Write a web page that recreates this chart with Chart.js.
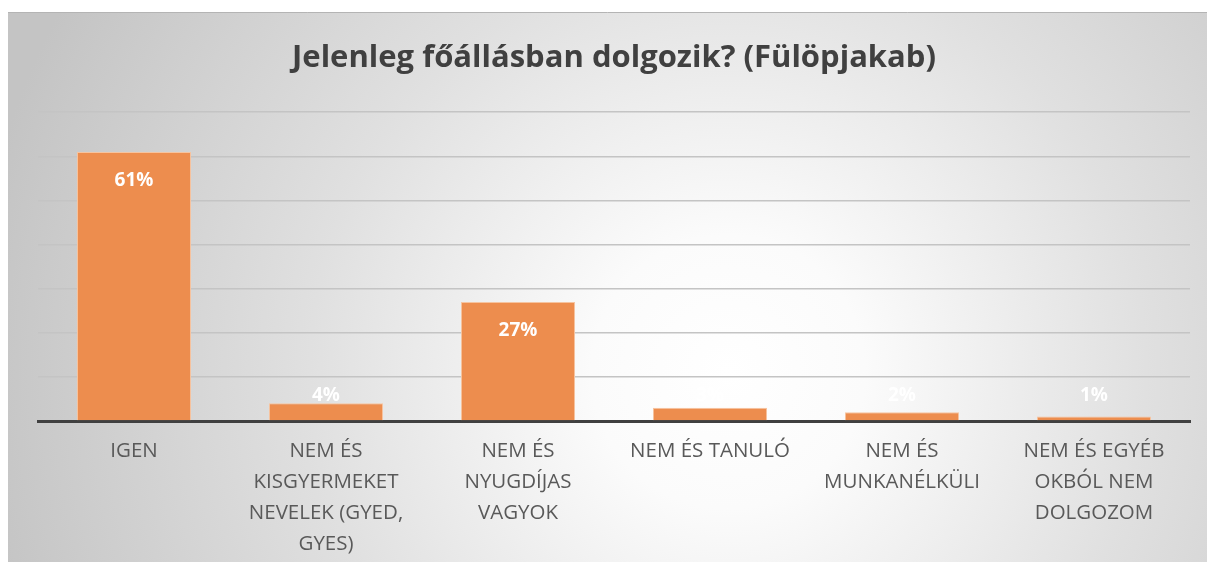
<!DOCTYPE html>
<html>
<head>
<meta charset="utf-8">
<script src="https://cdn.jsdelivr.net/npm/chart.js@4"></script>
<style>
  html, body { margin: 0; padding: 0; background: #ffffff; }
  #wrap { position: absolute; left: 8px; top: 12px; width: 1199px; height: 550px; }
</style>
</head>
<body>
<div id="wrap"><canvas id="jobChart" width="1199" height="550"></canvas></div>
<script>
const categories = [
  "IGEN",
  ["NEM ÉS", "KISGYERMEKET", "NEVELEK (GYED,", "GYES)"],
  ["NEM ÉS", "NYUGDÍJAS", "VAGYOK"],
  "NEM ÉS TANULÓ",
  ["NEM ÉS", "MUNKANÉLKÜLI"],
  ["NEM ÉS EGYÉB", "OKBÓL NEM", "DOLGOZOM"]
];
const percentValues = [61, 4, 27, 3, 2, 1];
const yTicks = [0, 10, 20, 30, 40, 50, 60, 70];

// soft radial shading behind the whole chart
const backdrop = {
  id: "backdrop",
  beforeDraw(chart) {
    const ctx = chart.ctx;
    const w = chart.width, h = chart.height;
    ctx.save();
    const g = ctx.createRadialGradient(720, 360, 0, 720, 360, 760);
    g.addColorStop(0, "#ffffff");
    g.addColorStop(0.18, "#fbfbfb");
    g.addColorStop(0.55, "#e0e0e0");
    g.addColorStop(1, "#c4c4c4");
    ctx.fillStyle = g;
    ctx.fillRect(0, 0, w, h);
    ctx.strokeStyle = "#b4b4b4";
    ctx.lineWidth = 1;
    ctx.beginPath();
    ctx.moveTo(0, 0.5);
    ctx.lineTo(w, 0.5);
    ctx.stroke();
    ctx.restore();
  }
};

// percentage labels at the inner end of every bar
const barLabels = {
  id: "barLabels",
  afterDatasetsDraw(chart) {
    const ctx = chart.ctx;
    const meta = chart.getDatasetMeta(0);
    const base = chart.scales.y.getPixelForValue(0);
    ctx.save();
    ctx.font = "bold 19px 'Open Sans'";
    ctx.fillStyle = "#ffffff";
    ctx.textAlign = "center";
    ctx.textBaseline = "middle";
    meta.data.forEach((bar, i) => {
      const y = Math.min(bar.y + 29, base - 25);
      ctx.fillText(percentValues[i] + "%", bar.x, y);
    });
    ctx.restore();
  }
};

new Chart(document.getElementById("jobChart"), {
  type: "bar",
  data: {
    labels: categories,
    datasets: [{
      data: percentValues,
      backgroundColor: "#ed8d4e",
      borderColor: "#f6c4a0",
      borderWidth: 1,
      borderSkipped: "bottom",
      barPercentage: 0.594,
      categoryPercentage: 1
    }]
  },
  options: {
    responsive: false,
    animation: false,
    layout: { padding: { left: 30, right: 17, top: 0, bottom: 0 } },
    plugins: {
      legend: { display: false },
      tooltip: { enabled: false },
      title: {
        display: true,
        text: "Jelenleg főállásban dolgozik? (Fülöpjakab)",
        color: "#404040",
        font: { family: "'Open Sans'", size: 31, weight: "bold", lineHeight: 1.2 },
        padding: { top: 28, bottom: 35 }
      }
    },
    scales: {
      x: {
        grid: { display: false, drawTicks: false },
        border: { display: true, color: "#404040", width: 3 },
        ticks: {
          color: "#595959",
          font: { family: "'Open Sans'", size: 20.5, lineHeight: 1.51 },
          padding: 15,
          maxRotation: 0,
          autoSkip: false
        },
        afterFit(scale) { scale.height = 141; }
      },
      y: {
        min: 0,
        max: 70,
        afterBuildTicks(scale) { scale.ticks = yTicks.map(v => ({ value: v })); },
        ticks: { display: false },
        grid: { color: "#c4c4c4", lineWidth: 1.5, drawTicks: false },
        border: { display: false },
        afterFit(scale) { scale.width = 0; }
      }
    }
  },
  plugins: [backdrop, barLabels]
});
</script>
</body>
</html>
